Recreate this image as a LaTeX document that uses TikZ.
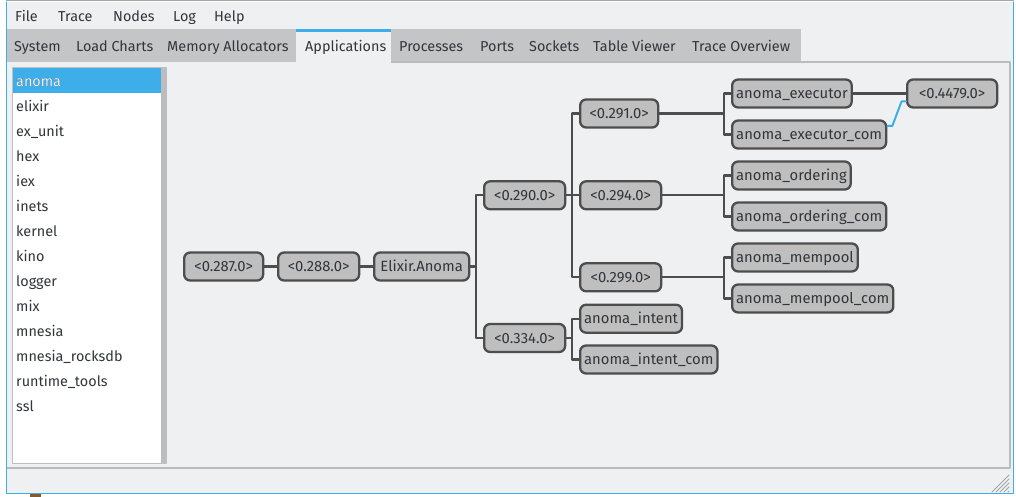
\documentclass[tikz,border=0pt]{standalone}
\usepackage{fontspec}
\setmainfont{Fira Sans}
\usetikzlibrary{arrows}
\definecolor{winbg}{HTML}{EFF0F1}
\definecolor{tabgrey}{HTML}{C4C5C6}
\definecolor{panelline}{HTML}{BABBBC}
\definecolor{selblue}{HTML}{3DAEE9}
\definecolor{boxfill}{HTML}{BFBFBF}
\definecolor{boxline}{HTML}{4D4D4D}
\definecolor{txt}{HTML}{31363B}
\tikzset{
    proc/.style={%Tree box format
        draw=boxline,fill=boxfill,line width=2.3pt,rounded corners=6pt,
        anchor=west,minimum height=28pt,minimum width=#1,inner xsep=4pt,inner ysep=0pt,
        text height=13pt,text depth=3pt,
        text=txt,font=\fontsize{14.8}{16}\selectfont},
    link/.style={draw=boxline,line width=2.3pt},
    applink/.style={draw=selblue,line width=2pt},
    guitext/.style={anchor=west,text=txt,inner sep=0pt,text height=13pt,text depth=3pt,
        font=\fontsize{14.4}{16}\selectfont}
    }

\begin{document}
\begin{tikzpicture}[line cap=round,line join=round,x=1pt,y=-1pt]
\useasboundingbox[fill=white] (0,0) rectangle (1016,497);
% window
\fill[color=winbg] (6,2) rectangle (1014,494);
\fill[color=black!35] (6,0) rectangle (1014,1.5);
\fill[color=brown!70!black] (30,494) rectangle (41,497);
\node[guitext] (mfile) at (15,16.5) {File};
\node[guitext] (mtrace) at (58,16.5) {Trace};
\node[guitext] (mnodes) at (113,16.5) {Nodes};
\node[guitext] (mlog) at (173,16.5) {Log};
\node[guitext] (mhelp) at (214,16.5) {Help};
% tabs
\fill[color=tabgrey] (7,29) rectangle (801,62);
\draw[color=panelline,line width=1.2pt] (391,62) -- (1010,62) -- (1010,468) -- (7,468);
\fill[color=winbg] (296,29) rectangle (391,63);
\fill[color=selblue] (296,29) rectangle (391,32);
\foreach \x/\t in {14/System,76/Load Charts,167/Memory Allocators,305/Applications,399/Processes,480/Ports,529/Sockets,593/Table Viewer,692/Trace Overview}
\node[guitext] (tab\x) at (\x,46.5) {\t};
% application list
\draw[color=black!25,fill=white] (12.5,67.5) rectangle (166.5,463.5);
\fill[color=black!26] (161,68) rectangle (167,463);
\fill[color=selblue] (13,68) rectangle (161,93);
\foreach \a [count=\i from 0] in {anoma,elixir,ex\_unit,hex,iex,inets,kernel,kino,logger,mix,mnesia,mnesia\_rocksdb,runtime\_tools,ssl}
\node[guitext] (app\i) at (16,{81.5+25*\i}) {\a};
\node[guitext,text=white] at (16,81.5) {anoma};
% resize grip
\foreach \d in {0,4,8,12,16}
\draw[color=black!35,line width=1pt] (992+\d,492) -- (1009,475+\d);
\draw[color=selblue,line width=1pt] (6.5,2) -- (6.5,493.5) -- (1013.5,493.5) -- (1013.5,2);
% process tree
\node[proc=79pt] (p287) at (183,266.5) {<0.287.0>};
\node[proc=81pt] (p288) at (277,266.5) {<0.288.0>};
\node[proc=95pt] (anoma) at (373,266.5) {Elixir.Anoma};
\node[proc=81pt] (p290) at (483,195.3) {<0.290.0>};
\node[proc=81pt] (p334) at (483,338) {<0.334.0>};
\node[proc=78pt] (p291) at (579,113.5) {<0.291.0>};
\node[proc=81pt] (p294) at (579,195.3) {<0.294.0>};
\node[proc=81pt] (p299) at (579,277.3) {<0.299.0>};
\node[proc=101pt] (intent) at (579,318.7) {anoma\_intent};
\node[proc=136pt] (intentcom) at (579,359.5) {anoma\_intent\_com};
\node[proc=119pt] (exec) at (731,93.5) {anoma\_executor};
\node[proc=154pt] (execcom) at (731,134.5) {anoma\_executor\_com};
\node[proc=118pt] (ord) at (731,175.5) {anoma\_ordering};
\node[proc=153pt] (ordcom) at (731,216.5) {anoma\_ordering\_com};
\node[proc=124pt] (mem) at (731,257.5) {anoma\_mempool};
\node[proc=159pt] (memcom) at (731,298.5) {anoma\_mempool\_com};
\node[proc=90pt] (p4479) at (906,93.5) {<0.4479.0>};
\draw[link] (p287) -- (p288);
\draw[link] (p288) -- (anoma);
\draw[link] (exec) -- (p4479);
\foreach \p/\c in {anoma/p290,anoma/p334,p290/p291,p290/p294,p290/p299,p334/intent,p334/intentcom,p291/exec,p291/execcom,p294/ord,p294/ordcom,p299/mem,p299/memcom}
\draw[link,line cap=butt] (\p.east) -| ([xshift=-7pt]\c.west) -- (\c.west);
\draw[applink] ([yshift=8.5pt]execcom.east) -- ++(5,0) -- ([xshift=-4.5pt,yshift=-8pt]p4479.west) -- ([yshift=-8pt]p4479.west);
\end{tikzpicture}
\end{document}
